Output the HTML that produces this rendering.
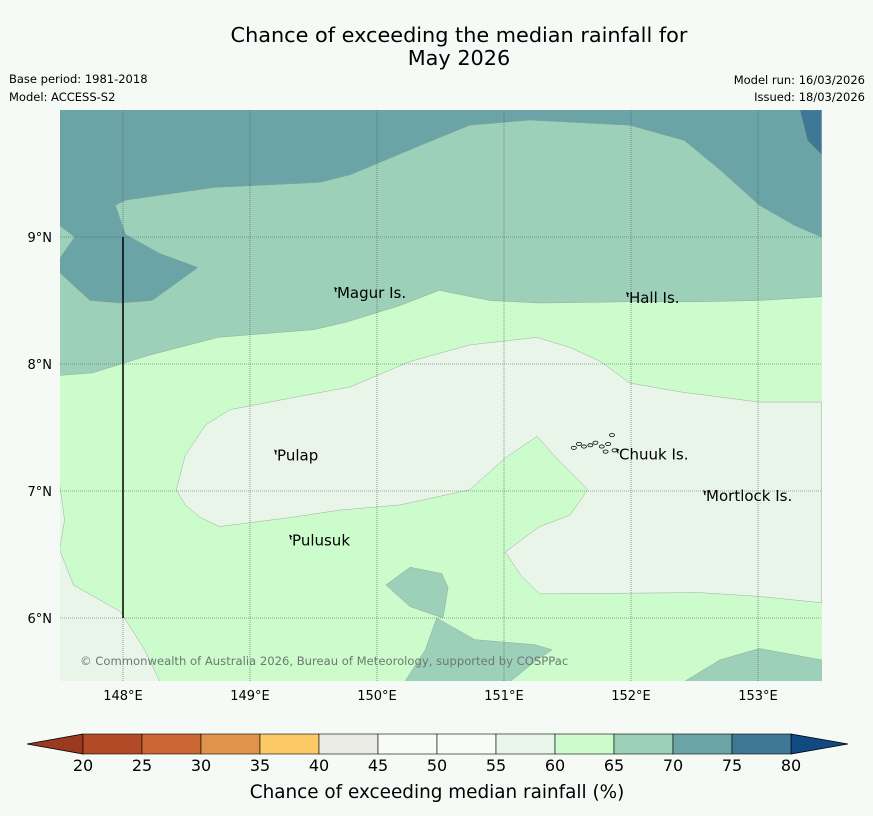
<!DOCTYPE html>
<html><head><meta charset="utf-8"><style>
body{margin:0;background:#f6faf6;font-family:"DejaVu Sans","Liberation Sans",sans-serif;}
svg{display:block}
</style></head><body>
<svg id="c" width="873" height="816" xmlns="http://www.w3.org/2000/svg">
<rect width="873" height="816" fill="#f6faf6"/>
<text x="459" y="42" font-size="20.8" text-anchor="middle" fill="#000">Chance of exceeding the median rainfall for</text>
<text x="459" y="65" font-size="20.8" text-anchor="middle" fill="#000">May 2026</text>
<text x="9" y="83" font-size="11.5">Base period: 1981-2018</text>
<text x="9" y="101" font-size="11.5">Model: ACCESS-S2</text>
<text x="865" y="84" font-size="11.5" text-anchor="end">Model run: 16/03/2026</text>
<text x="865" y="101" font-size="11.5" text-anchor="end">Issued: 18/03/2026</text>
<g id="map"></g>
<g id="cbar"></g>
<text x="437" y="798" font-size="18.4" text-anchor="middle">Chance of exceeding median rainfall (%)</text>
</svg>
<script>
const lonTicks=[148,149,150,151,152,153];
const latTicks=[6,7,8,9];
const levels=[20,25,30,35,40,45,50,55,60,65,70,75,80];
const binColors=["#b34a27","#cc6633","#e0934a","#fdc966","#ebebe6","#f8fcf8","#f8fcf8","#eaf5ea","#ccfccc","#9dd0b9","#6ba4a6","#3f7896"];
const polyLevels=[65,70,75,55,55,65,65,65];
const polys=[
[[147.5,7.91],[147.76,7.93],[148.21,8.07],[148.75,8.21],[149.5,8.27],[149.76,8.33],[150.18,8.46],[150.49,8.58],[150.89,8.5],[151.28,8.48],[151.99,8.49],[152.54,8.49],[153.01,8.5],[153.5,8.53],[153.5,10],[147.5,10]],
[[147.5,9.09],[147.62,9.0],[147.5,8.83],[147.5,8.72],[147.74,8.5],[147.98,8.48],[148.23,8.5],[148.59,8.76],[148.29,8.87],[148.02,9.02],[147.94,9.25],[148.02,9.29],[148.72,9.39],[149.55,9.43],[149.79,9.49],[150.34,9.72],[150.73,9.88],[151.2,9.92],[151.99,9.88],[152.42,9.76],[152.7,9.53],[153.01,9.25],[153.29,9.09],[153.5,9.0],[153.5,10],[147.5,10]],
[[153.33,10],[153.39,9.76],[153.5,9.65],[153.5,10]],
[[148.42,7.01],[148.49,7.28],[148.65,7.52],[148.84,7.64],[149.31,7.73],[149.79,7.82],[150.26,8.02],[150.73,8.15],[151.26,8.21],[151.52,8.13],[151.76,8.02],[151.99,7.85],[152.39,7.78],[153.01,7.70],[153.5,7.70],[153.5,6.12],[153.01,6.17],[152.54,6.2],[151.28,6.19],[151.13,6.34],[151.01,6.52],[151.28,6.72],[151.52,6.81],[151.66,7.01],[151.44,7.23],[151.26,7.43],[151.01,7.26],[150.73,7.01],[150.18,6.89],[149.71,6.85],[149.31,6.79],[148.76,6.72],[148.61,6.79],[148.49,6.89]],
[[147.5,7.06],[147.54,6.77],[147.5,6.54],[147.61,6.26],[147.98,6.05],[148.17,5.75],[148.29,5.5],[147.5,5.5]],
[[150.07,6.26],[150.26,6.4],[150.51,6.35],[150.56,6.24],[150.52,6.0],[150.26,6.09]],
[[150.22,5.5],[150.38,5.75],[150.47,6.0],[150.77,5.83],[151.24,5.79],[151.38,5.75],[151.26,5.67],[151.05,5.5]],
[[152.42,5.5],[152.7,5.67],[153.01,5.76],[153.5,5.67],[153.5,5.5]]
];
const placeNames=["Magur Is.","Hall Is.","Pulap","Chuuk Is.","Mortlock Is.","Pulusuk"];
const placeLon=[149.685,151.984,149.213,151.906,152.591,149.331];
const placeLat=[8.52,8.48,7.24,7.25,6.92,6.57];
const chuukLon=[151.55,151.59,151.63,151.68,151.72,151.77,151.82,151.85,151.87,151.80];
const chuukLat=[7.34,7.37,7.35,7.36,7.38,7.35,7.37,7.44,7.32,7.31];
const NS="http://www.w3.org/2000/svg";
const X0=59.5,Y0=110,PX=127;
const sx=lon=>X0+(lon-147.5)*PX, sy=lat=>Y0+(10-lat)*PX;
const colorFor=l=>binColors[levels.indexOf(l)];
const map=document.getElementById('map');
function mk(tag,attrs,parent){const e=document.createElementNS(NS,tag);for(const k in attrs)e.setAttribute(k,attrs[k]);parent.appendChild(e);return e;}
const defs=mk('defs',{},map);const cp=mk('clipPath',{id:'clip'},defs);mk('rect',{x:60,y:110,width:762,height:571},cp);
const bg=mk('rect',{x:60,y:110,width:762,height:571,fill:colorFor(60)},map);


const g=mk('g',{'clip-path':'url(#clip)'},map);
polys.forEach((p,i)=>{
 const e=mk('polygon',{points:p.map(q=>sx(q[0])+','+sy(q[1])).join(' '),fill:colorFor(polyLevels[i]),stroke:'#8a9a90','stroke-width':0.4},g);
 
 
});
lonTicks.forEach(l=>{
 const e=mk('line',{x1:sx(l),x2:sx(l),y1:110,y2:681,stroke:'#555','stroke-width':0.6,'stroke-dasharray':'1,1'},map);
 
 
 const t=mk('text',{x:sx(l),y:700,'font-size':13,'text-anchor':'middle'},map);t.textContent=l+'°E';
 
 
});
latTicks.forEach(l=>{
 const e=mk('line',{x1:60,x2:822,y1:sy(l),y2:sy(l),stroke:'#555','stroke-width':0.6,'stroke-dasharray':'1,1'},map);
 
 
 const t=mk('text',{x:52,y:sy(l)+5,'font-size':13,'text-anchor':'end'},map);t.textContent=l+'°N';
 
 
});
const vl=mk('line',{x1:sx(148),x2:sx(148),y1:sy(9),y2:sy(6),stroke:'#000','stroke-width':1.5},map);


chuukLon.forEach((lo,i)=>{
 const e=mk('ellipse',{cx:sx(lo),cy:sy(chuukLat[i]),rx:2.5,ry:1.6,fill:'none',stroke:'#000','stroke-width':0.8},map);
 
 
});
placeNames.forEach((n,i)=>{
 const m=mk('path',{d:`M${sx(placeLon[i])-1},${sy(placeLat[i])-6} l-1,-4 l2,1`,stroke:'#000',fill:'none','stroke-width':1.2},map);
 
 
 const t=mk('text',{x:sx(placeLon[i]),y:sy(placeLat[i]),'font-size':15,fill:'#000'},map);t.textContent=n;
 
 
});
const cr=mk('text',{x:80,y:665,'font-size':11.6,fill:'#6a7a70'},map);cr.textContent='© Commonwealth of Australia 2026, Bureau of Meteorology, supported by COSPPac';


const cb=document.getElementById('cbar');
const CB0=83,CBW=59,CBY=734,CBH=20;
const lt=mk('polygon',{points:`27,744 ${CB0},${CBY} ${CB0},${CBY+CBH}`,fill:'#9a3a20',stroke:'#000','stroke-width':0.8},cb);


const rx=CB0+CBW*binColors.length;
const rt=mk('polygon',{points:`${rx},${CBY} 848,744 ${rx},${CBY+CBH}`,fill:'#104a80',stroke:'#000','stroke-width':0.8},cb);


binColors.forEach((c,i)=>{
 const r=mk('rect',{x:CB0+i*CBW,y:CBY,width:CBW,height:CBH,fill:c,stroke:'#000','stroke-width':0.6},cb);
 
 
});
levels.forEach((l,i)=>{
 const t=mk('text',{x:CB0+i*CBW,y:771,'font-size':16,'text-anchor':'middle'},cb);t.textContent=l;
 
 
});
</script>
</body></html>
